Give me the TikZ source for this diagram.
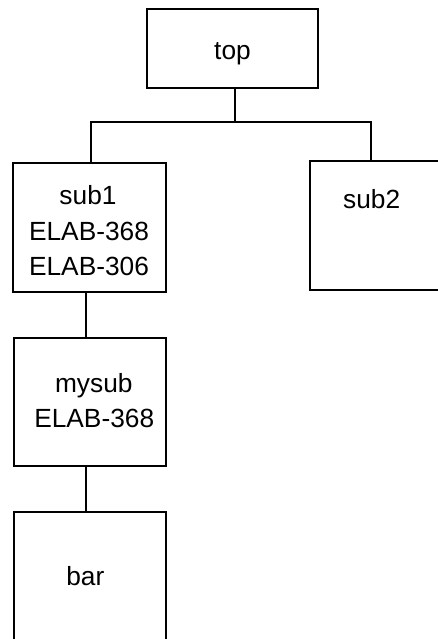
\documentclass[tikz,border=0pt]{standalone}
\usepackage{fontspec}
\setmainfont{Liberation Sans}
\begin{document}
\begin{tikzpicture}[x=1pt,y=-1pt,
  box/.style={draw,line width=1.4pt,rectangle,anchor=north west,inner sep=0pt,outer sep=0pt},
  lbl/.style={anchor=base,inner sep=0pt,font=\fontsize{26.3}{30}\selectfont},
  wire/.style={line width=1.4pt}]
\useasboundingbox (0,0) rectangle (438,639);
\clip (0,0) rectangle (438,639);
% hierarchy boxes
\node[box,minimum width=171pt,minimum height=79pt] (top) at (147,9) {};
\node[box,minimum width=153pt,minimum height=129pt] (sub1) at (13,163) {};
\node[box,minimum width=153pt,minimum height=129pt] (sub2) at (310,161) {};
\node[box,minimum width=152pt,minimum height=128pt] (mysub) at (14,338) {};
\node[box,minimum width=152pt,minimum height=150pt] (bar) at (14,512) {};
% labels
\node[lbl] (ttop) at (232.5,60) {top};
\node[lbl] (tsub1) at (88,204.5) {sub1};
\node[lbl] (tsub1a) at (89,240) {ELAB-368};
\node[lbl] (tsub1b) at (89,275.3) {ELAB-306};
\node[lbl] (tsub2) at (371.7,208.3) {sub2};
\node[lbl] (tmysub) at (93.8,392.7) {mysub};
\node[lbl] (tmysuba) at (94.2,427.3) {ELAB-368};
\node[lbl] (tbar) at (85.3,585) {bar};
% connectors
\coordinate (fork) at (235,122);
\draw[wire] (top.south -| fork) -- (fork);
\draw[wire] (fork) -| ([xshift=1.5pt]sub1.north);
\draw[wire] (fork) -| ([xshift=61pt]sub2.north west);
\draw[wire] ([xshift=-3.5pt]sub1.south) -- ([xshift=-3.5pt]sub1.south |- mysub.north);
\draw[wire] ([xshift=-4pt]mysub.south) -- ([xshift=-4pt]mysub.south |- bar.north);
\end{tikzpicture}
\end{document}
